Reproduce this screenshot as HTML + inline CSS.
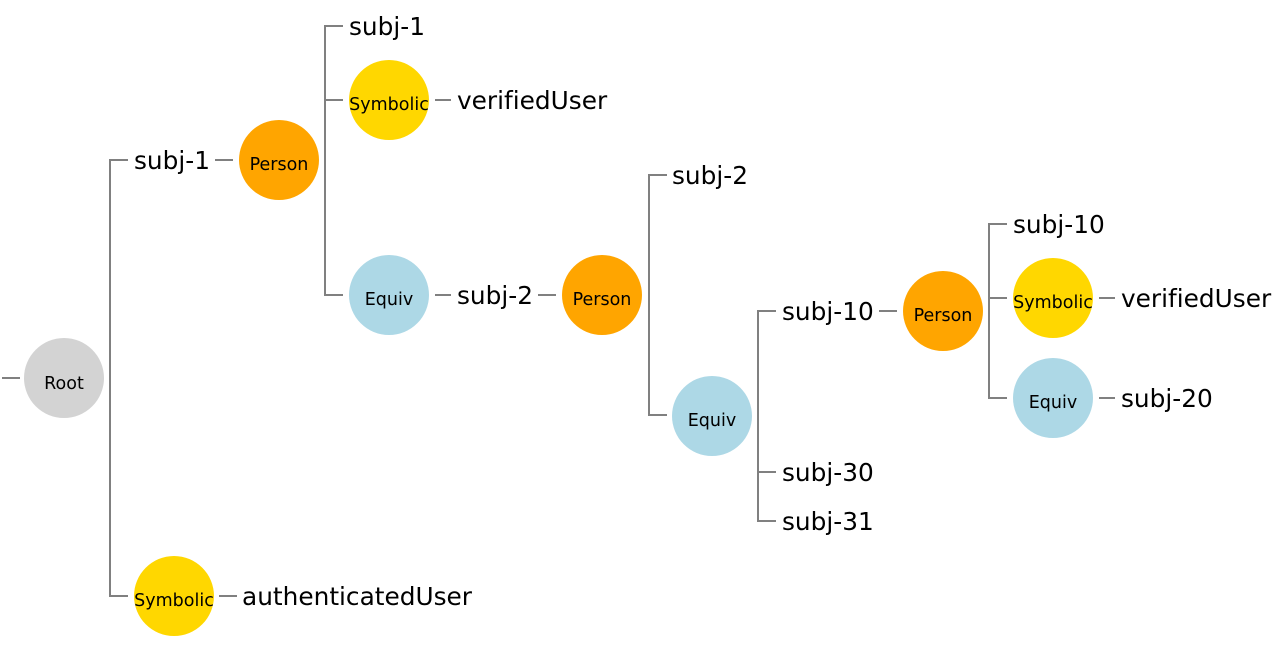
<!DOCTYPE html>
<html><head><meta charset="utf-8"><style>
html,body{margin:0;padding:0;background:#fff;}
svg{display:block;}
.l{font-family:"DejaVu Sans","Liberation Sans",sans-serif;font-size:24.8px;fill:#000;font-variant-ligatures:none;}
.n{font-family:"DejaVu Sans","Liberation Sans",sans-serif;font-size:17.5px;fill:#000;text-anchor:middle;}
path{stroke:#808080;stroke-width:2;fill:none;}
</style></head><body>
<svg width="1277" height="647" viewBox="0 0 1277 647" xmlns="http://www.w3.org/2000/svg">
<path d="M2 378H20"/>
<path d="M128 160H110V596H128"/>
<path d="M215 160H233"/>
<path d="M343 26H325V295H343M325 100H343"/>
<path d="M435 100H451"/>
<path d="M435 295H451"/>
<path d="M538 295H556"/>
<path d="M667 175H649V415H667"/>
<path d="M776 311H758V521H776M758 472H776"/>
<path d="M879 311H897"/>
<path d="M1007 224H989V398H1007M989 298H1007"/>
<path d="M1099 298H1115"/>
<path d="M1099 398H1115"/>
<path d="M219 596H237"/>
<circle cx="64" cy="378" r="40" fill="#d3d3d3"/>
<text class="n" x="64" y="389">Root</text>
<circle cx="279" cy="160" r="40" fill="#ffa500"/>
<text class="n" x="279" y="170">Person</text>
<circle cx="389" cy="100" r="40" fill="#ffd700"/>
<text class="n" x="389" y="110">Symbolic</text>
<circle cx="389" cy="295" r="40" fill="#add8e6"/>
<text class="n" x="389" y="305">Equiv</text>
<circle cx="602" cy="295" r="40" fill="#ffa500"/>
<text class="n" x="602" y="305">Person</text>
<circle cx="712" cy="416" r="40" fill="#add8e6"/>
<text class="n" x="712" y="426">Equiv</text>
<circle cx="943" cy="311" r="40" fill="#ffa500"/>
<text class="n" x="943" y="321">Person</text>
<circle cx="1053" cy="298" r="40" fill="#ffd700"/>
<text class="n" x="1053" y="308">Symbolic</text>
<circle cx="1053" cy="398" r="40" fill="#add8e6"/>
<text class="n" x="1053" y="408">Equiv</text>
<circle cx="174" cy="596" r="40" fill="#ffd700"/>
<text class="n" x="174" y="606">Symbolic</text>
<text class="l" x="134" y="169">subj-1</text>
<text class="l" x="349" y="35">subj-1</text>
<text class="l" x="457" y="109">verifiedUser</text>
<text class="l" x="457" y="304">subj-2</text>
<text class="l" x="672" y="184">subj-2</text>
<text class="l" x="782" y="320">subj-10</text>
<text class="l" x="782" y="481">subj-30</text>
<text class="l" x="782" y="530">subj-31</text>
<text class="l" x="1013" y="233">subj-10</text>
<text class="l" x="1121" y="307">verifiedUser</text>
<text class="l" x="1121" y="407">subj-20</text>
<text class="l" x="242" y="605">authenticatedUser</text>
</svg>
</body></html>
